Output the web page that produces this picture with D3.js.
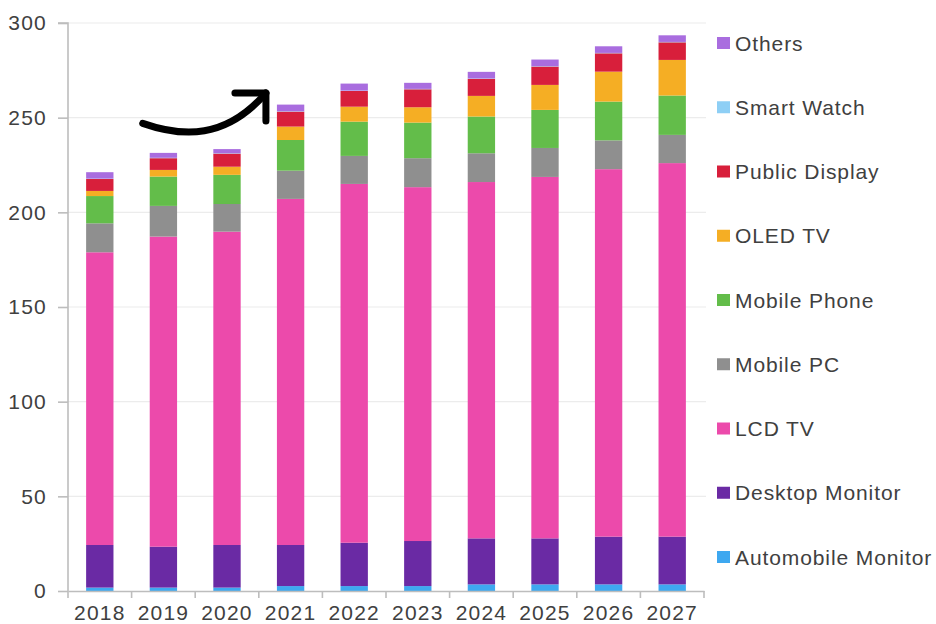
<!DOCTYPE html>
<html>
<head>
<meta charset="utf-8">
<script src="https://cdn.jsdelivr.net/npm/d3@7"></script>
<style>
  body { margin: 0; background: #fff; }
  text { font-family: "Liberation Sans", Arial, sans-serif; }
</style>
</head>
<body>
<div class="chart"></div>
<script>
const years = ["2018", "2019", "2020", "2021", "2022", "2023", "2024", "2025", "2026", "2027"];

const automobileMonitor = [1.8, 1.8, 1.8, 2.6, 2.6, 2.6, 3.5, 3.5, 3.5, 3.5];
const desktopMonitor = [22.5, 21.6, 22.5, 21.7, 22.9, 23.8, 24.3, 24.3, 25.2, 25.2];
const lcdTv = [154.6, 163.8, 165.5, 182.8, 189.5, 186.9, 188.2, 190.9, 194.1, 197.3];
const mobilePc = [15.3, 16.2, 14.6, 14.9, 14.8, 15.3, 15.2, 15.3, 15.2, 14.9];
const mobilePhone = [14.4, 15.5, 15.4, 16.2, 18.1, 18.8, 19.4, 20.1, 20.5, 20.8];
const oledTv = [2.7, 3.5, 4.3, 7.1, 7.9, 8.1, 10.9, 13.2, 15.8, 18.8];
const publicDisplay = [6.3, 6.2, 6.9, 7.9, 8.3, 9.5, 9.0, 9.7, 9.7, 9.3];
const smartWatch = [0.2, 0.2, 0.2, 0.2, 0.2, 0.2, 0.2, 0.2, 0.2, 0.2];
const others = [3.4, 2.6, 2.2, 3.5, 3.7, 3.2, 3.5, 3.5, 3.5, 3.5];

const yTicks = [0, 50, 100, 150, 200, 250, 300];

const seriesNames = ["Automobile Monitor", "Desktop Monitor", "LCD TV", "Mobile PC", "Mobile Phone",
  "OLED TV", "Public Display", "Smart Watch", "Others"];
const seriesValues = [automobileMonitor, desktopMonitor, lcdTv, mobilePc, mobilePhone,
  oledTv, publicDisplay, smartWatch, others];
const seriesColors = ["#3ea8f0", "#6a2aa4", "#ec4aab", "#8f8f8f", "#63bd4a",
  "#f5ae24", "#d81f3b", "#8ecff5", "#a96ddf"];

// arrow annotation, in data terms
const arrowFrom = { year: "2019", value: 247 };
const arrowTo = { year: "2021", value: 263 };

const W = 936, H = 624;
const margin = { top: 23, right: 232, bottom: 33, left: 68 };

const svg = d3.select(".chart")
  .append("svg")
  .attr("width", W)
  .attr("height", H);

const x = d3.scaleBand()
  .domain(years)
  .range([margin.left, W - margin.right])
  .paddingInner(0.57)
  .paddingOuter(0.285);

const y = d3.scaleLinear()
  .domain([0, 300])
  .range([H - margin.bottom, margin.top]);

const table = years.map((yr, i) => {
  const row = { year: yr };
  seriesNames.forEach((n, k) => { row[n] = seriesValues[k][i]; });
  return row;
});
const stacked = d3.stack().keys(seriesNames)(table);

// gridlines
svg.append("g")
  .selectAll("line")
  .data(yTicks.filter(d => d > 0))
  .join("line")
  .attr("x1", margin.left)
  .attr("x2", W - margin.right + 2)
  .attr("y1", d => y(d))
  .attr("y2", d => y(d))
  .attr("stroke", "#ececec")
  .attr("stroke-width", 1.2);

// bars
svg.append("g")
  .selectAll("g")
  .data(stacked)
  .join("g")
  .attr("fill", (d, i) => seriesColors[i])
  .selectAll("rect")
  .data(d => d)
  .join("rect")
  .attr("x", d => x(d.data.year))
  .attr("width", x.bandwidth())
  .attr("y", d => y(d[1]))
  .attr("height", d => y(d[0]) - y(d[1]));

// y axis
const yAxis = svg.append("g")
  .attr("transform", `translate(${margin.left},0)`)
  .call(d3.axisLeft(y).tickValues(yTicks).tickSize(10).tickPadding(11));
yAxis.select(".domain").attr("stroke", "#bdbdbd").attr("stroke-width", 1.6)
  .attr("d", `M-10,${y(300)}H0V${y(0)}`);
yAxis.selectAll(".tick line").attr("stroke", "#bdbdbd").attr("stroke-width", 1.6);
yAxis.selectAll(".tick text")
  .attr("fill", "#404040")
  .style("font-size", "21px")
  .style("letter-spacing", "1.2px");

// x axis: labels at centers, ticks between categories
const xAxis = svg.append("g")
  .attr("transform", `translate(0,${y(0)})`)
  .call(d3.axisBottom(x).tickSize(0).tickPadding(14));
xAxis.select(".domain").attr("stroke", "#bdbdbd").attr("stroke-width", 1.6);
xAxis.selectAll(".tick text")
  .attr("fill", "#404040")
  .style("font-size", "21px")
  .style("letter-spacing", "1.2px");

const half = (x.step() - x.bandwidth()) / 2;
const bounds = years.map(d => x(d) - half).concat([x(years[years.length - 1]) + x.bandwidth() + half]);
xAxis.append("g")
  .selectAll("line")
  .data(bounds)
  .join("line")
  .attr("x1", d => d)
  .attr("x2", d => d)
  .attr("y1", 0)
  .attr("y2", 7)
  .attr("stroke", "#bdbdbd")
  .attr("stroke-width", 1.6);

// arrow
const ax0 = x(arrowFrom.year) - 7, ay0 = y(arrowFrom.value);
const ax1 = x(arrowTo.year) - 11, ay1 = y(arrowTo.value);
const p = d3.path();
p.moveTo(ax0, ay0);
p.bezierCurveTo(ax0 + 40, ay0 + 14, ax1 - 40, ay0 + 16, ax1, ay1);
svg.append("path")
  .attr("d", p.toString())
  .attr("fill", "none")
  .attr("stroke", "#000")
  .attr("stroke-width", 7)
  .attr("stroke-linecap", "round");
svg.append("path")
  .attr("d", `M${ax1 - 31},${ay1}H${ax1}V${ay1 + 28}`)
  .attr("fill", "none")
  .attr("stroke", "#000")
  .attr("stroke-width", 7)
  .attr("stroke-linecap", "round")
  .attr("stroke-linejoin", "round");

// legend
const legendOrder = seriesNames.map((n, i) => i).reverse();
const legend = svg.append("g")
  .selectAll("g")
  .data(legendOrder)
  .join("g")
  .attr("transform", (d, i) => `translate(717,${43 + i * 64.25})`);
legend.append("rect")
  .attr("x", 0)
  .attr("y", -6)
  .attr("width", 13)
  .attr("height", 12)
  .attr("fill", d => seriesColors[d]);
legend.append("text")
  .attr("x", 18)
  .attr("y", 0)
  .attr("dy", "0.36em")
  .attr("fill", "#404040")
  .style("font-size", "21px")
  .style("letter-spacing", "0.9px")
  .text(d => seriesNames[d]);
</script>
</body>
</html>
